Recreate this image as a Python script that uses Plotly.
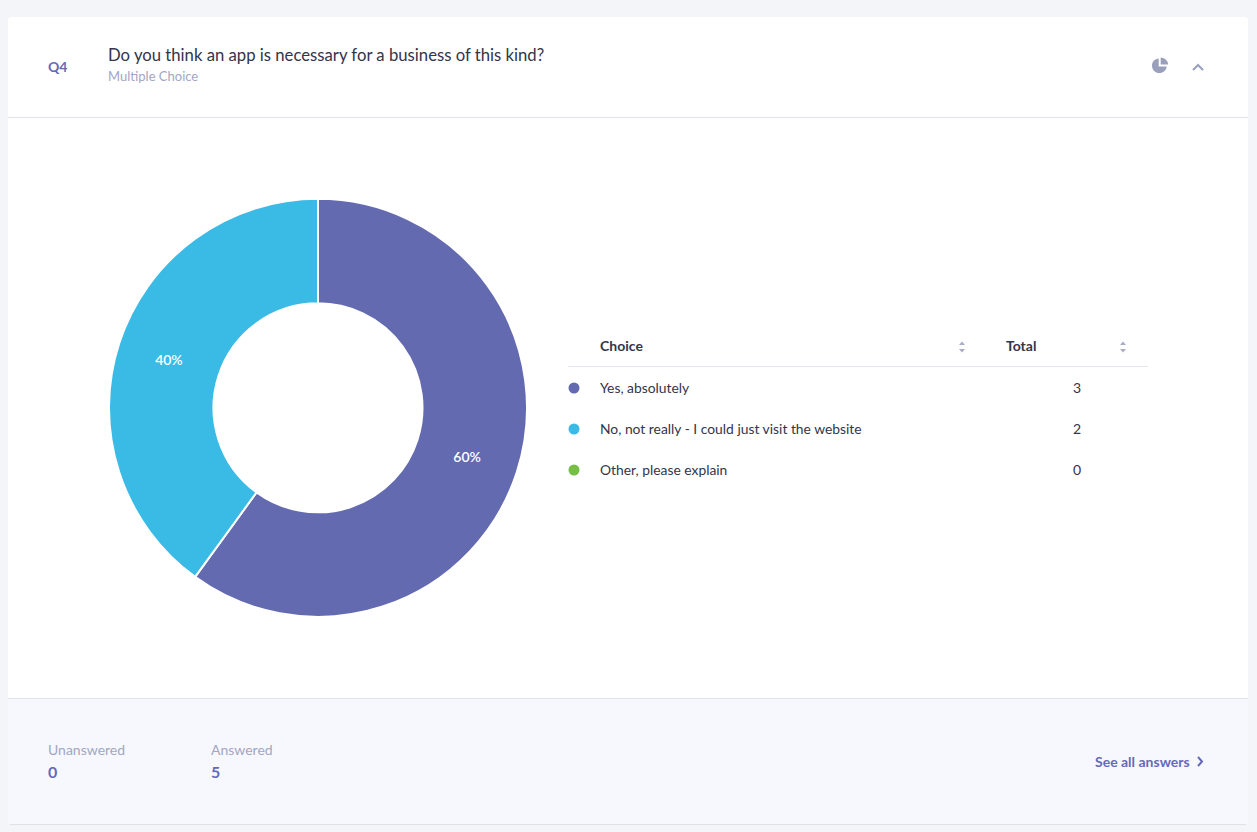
import plotly.graph_objects as go

# Survey results for question 4
question_id = "Q4"
question_text = "Do you think an app is necessary for a business of this kind?"
question_type = "Multiple Choice"
choices = ["Yes, absolutely", "No, not really - I could just visit the website", "Other, please explain"]
totals = [3, 2, 0]
choice_colors = ["#646ab0", "#3abbe6", "#76bf44"]
table_headers = ["Choice", "Total"]
unanswered = 0
answered = 5

W, H = 1257, 832
FONT = "Lato"
INK = "#33354a"
MUTED = "#a2a6c2"
ACCENT = "#646ab8"
RULE = "#e0e2ea"

fig = go.Figure()

# Donut, placed by pixel box inside the page
cx, cy, r = 318, 407.8, 209
fig.add_trace(go.Pie(
    labels=choices,
    values=totals,
    sort=False,
    direction="clockwise",
    rotation=0,
    hole=0.5,
    marker=dict(colors=choice_colors, line=dict(color="#ffffff", width=2)),
    textinfo="percent",
    texttemplate=[("%{percent:.0%}" if v > 0 else "") for v in totals],
    textposition="inside",
    insidetextorientation="horizontal",
    insidetextfont=dict(family=FONT, size=14, color="#ffffff", weight=600),
    hoverinfo="label+value",
    showlegend=False,
    domain=dict(x=[(cx - r) / W, (cx + r) / W], y=[1 - (cy + r) / H, 1 - (cy - r) / H]),
))

# Bullet markers in the table, on a pixel-scaled hidden axis
row_y = [388, 429, 470]
fig.add_trace(go.Scatter(
    x=[574] * len(choices),
    y=row_y,
    mode="markers",
    marker=dict(size=11, color=choice_colors, line=dict(width=0)),
    hoverinfo="skip",
    showlegend=False,
))


def label(x, y, text, size=14, color=INK, anchor="left", bold=False):
    fig.add_annotation(
        x=x, y=y - 1, xref="x", yref="y", text=f"<b>{text}</b>" if bold else text,
        showarrow=False, xanchor=anchor, yanchor="middle",
        font=dict(family=FONT, size=size, color=color), borderpad=0, borderwidth=0,
    )


def rounded_rect(x0, y0, x1, y1, rad, top=True, bottom=True):
    t = rad if top else 0
    b = rad if bottom else 0
    return (f"M{x0 + t},{y0} L{x1 - t},{y0} Q{x1},{y0} {x1},{y0 + t} "
            f"L{x1},{y1 - b} Q{x1},{y1} {x1 - b},{y1} L{x0 + b},{y1} "
            f"Q{x0},{y1} {x0},{y1 - b} L{x0},{y0 + t} Q{x0},{y0} {x0 + t},{y0} Z")


shapes = [
    # Card body, footer band and dividers
    dict(type="path", path=rounded_rect(8, 17, 1248, 698, 4, bottom=False),
         fillcolor="#ffffff", line=dict(width=0), layer="below"),
    dict(type="path", path=rounded_rect(8, 698, 1248, 825, 4, top=False),
         fillcolor="#f7f8fd", line=dict(width=0), layer="below"),
    dict(type="line", x0=8, x1=1248, y0=117.5, y1=117.5, line=dict(color=RULE, width=1), layer="below"),
    dict(type="line", x0=8, x1=1248, y0=698.5, y1=698.5, line=dict(color=RULE, width=1), layer="below"),
    dict(type="line", x0=10, x1=1246, y0=824.5, y1=824.5, line=dict(color="#dfe1e8", width=1), layer="below"),
    dict(type="line", x0=568, x1=1148, y0=366.5, y1=366.5, line=dict(color="#e6e7ec", width=1), layer="below"),
    # Pie-chart icon: large three-quarter body and small detached wedge
    dict(type="path",
         path=("M1158.7,58.5 C1154.7,58.7 1152,62 1152,65.7 C1152,69.8 1155.3,73 1159.3,73 "
               "C1163.1,73 1166.3,70.2 1166.7,66.4 L1158.7,66.4 Z"),
         fillcolor="#9aa0bb", line=dict(width=0)),
    dict(type="path",
         path="M1160.7,57.5 C1164.8,57.7 1167.9,60.7 1168.2,64.6 L1160.7,64.6 Z",
         fillcolor="#9aa0bb", line=dict(width=0)),
    # Collapse chevron and link chevron
    dict(type="path", path="M1193,70 L1198,65 L1203,70", line=dict(color="#9aa3c2", width=2.2)),
    dict(type="path", path="M1198,757 L1202,761.5 L1198,766", line=dict(color=ACCENT, width=2)),
]

# Sort carets beside each table header
for caret_x in (962, 1123):
    shapes.append(dict(type="path", path=f"M{caret_x - 3},345 L{caret_x},341.5 L{caret_x + 3},345 Z",
                       fillcolor="#a9adc6", line=dict(width=0)))
    shapes.append(dict(type="path", path=f"M{caret_x - 3},349 L{caret_x},352.5 L{caret_x + 3},349 Z",
                       fillcolor="#a9adc6", line=dict(width=0)))

# Header
label(48, 67, question_id, size=14, color=ACCENT, bold=True)
label(107.5, 56, question_text, size=16.7, color=INK)
label(107.5, 77, question_type, size=13, color=MUTED)

# Table
label(600, 346, table_headers[0], bold=True)
label(1006, 346, table_headers[1], bold=True)
for y, name, total in zip(row_y, choices, totals):
    label(600, y, name, size=13.85)
    label(1077, y, str(total), anchor="center")

# Footer
label(48, 750, "Unanswered", color=MUTED)
label(48, 772, str(unanswered), size=16, color=ACCENT, bold=True)
label(211, 750, "Answered", color=MUTED)
label(211, 772, str(answered), size=16, color=ACCENT, bold=True)
label(1190, 762, "See all answers", color=ACCENT, anchor="right", bold=True)

fig.update_layout(
    width=W, height=H,
    margin=dict(l=0, r=0, t=0, b=0),
    paper_bgcolor="#f3f5f9",
    plot_bgcolor="rgba(0,0,0,0)",
    shapes=shapes,
    xaxis=dict(range=[0, W], visible=False, fixedrange=True),
    yaxis=dict(range=[H, 0], visible=False, fixedrange=True),
    font=dict(family=FONT),
)

fig.write_html("out.html", config=dict(displayModeBar=False))
